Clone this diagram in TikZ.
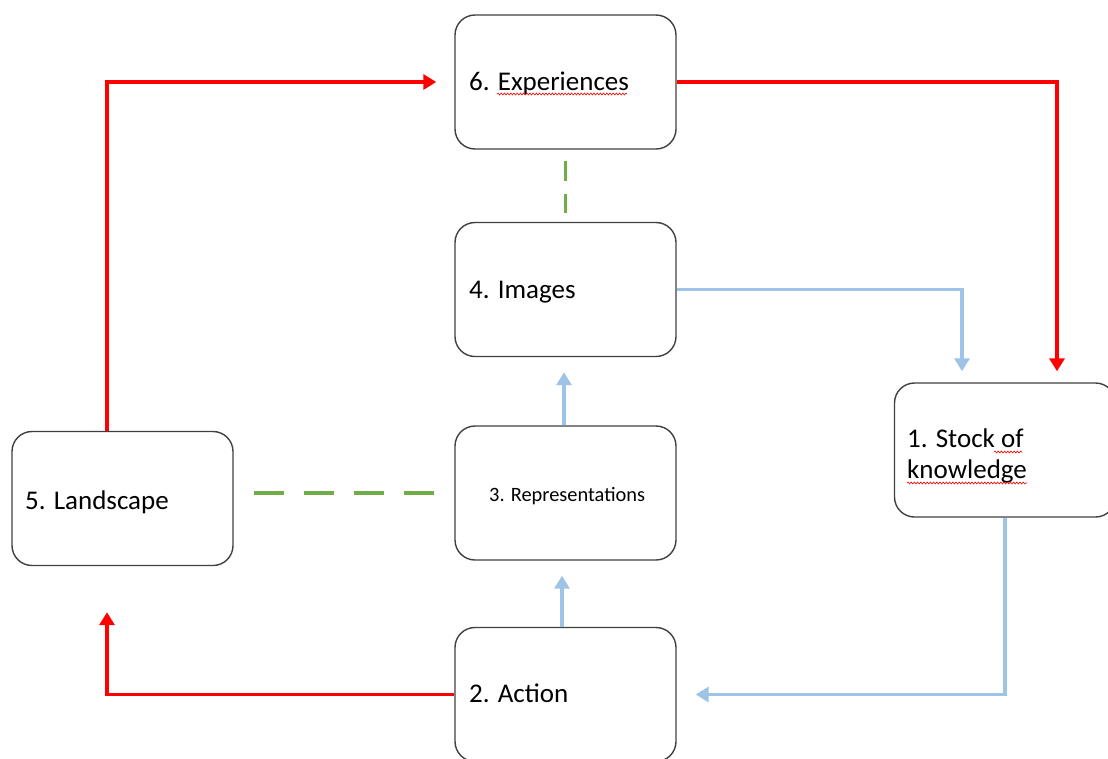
\documentclass[tikz,border=0pt]{standalone}
\usepackage{fontspec}
\setmainfont{Carlito}
\usetikzlibrary{arrows.meta,calc,decorations.pathmorphing}
\definecolor{boxline}{HTML}{404040}
\definecolor{redline}{HTML}{FF0000}
\definecolor{blueline}{HTML}{9DC3E6}
\definecolor{greenline}{HTML}{70AD47}
\tikzset{
  stagebox/.style={draw=boxline, line width=1.4pt, rounded corners=20pt, minimum width=221pt, minimum height=134pt, inner sep=0pt},
  lbl/.style={anchor=base west, inner sep=0pt, font=\fontsize{27}{33}\selectfont},
  lblsmall/.style={anchor=base west, inner sep=0pt, font=\fontsize{20.4}{25}\selectfont},
  redarrow/.style={draw=redline, line width=3.2pt, -{Triangle[width=15pt,length=13pt]}},
  bluearrow/.style={draw=blueline, line width=3.2pt, -{Triangle[width=15pt,length=13pt]}},
  greendash/.style={draw=greenline, line width=3.2pt},
  spell/.style={draw=redline, line width=0.6pt, decorate, decoration={snake, amplitude=1pt, segment length=3.2pt}}
}
\begin{document}
\begin{tikzpicture}[x=1pt,y=-1pt]
\useasboundingbox (0,0) rectangle (1108,758);
% boxes
\node[stagebox] (b6) at (565.5,82) {};
\node[stagebox] (b4) at (565.5,289.5) {};
\node[stagebox] (b3) at (565.5,493) {};
\node[stagebox] (b2) at (565.5,694.5) {};
\node[stagebox] (b5) at (122.5,498.5) {};
\node[stagebox] (b1) at (1005,450) {};
% labels
\node[lbl] (t6) at (469,90) {6. Experiences};
\node[lbl] (t4) at (469,298) {4. Images};
\node[lblsmall] (t3) at (489,501) {3. Representations};
\node[lbl] (t2) at (469,702) {2. Action};
\node[lbl] (t5) at (25,509) {5. Landscape};
\node[lbl] (t1a) at (907,447) {1. Stock of};
\node[lbl] (t1b) at (907,478) {knowledge};
% spell-check underlines
\draw[spell] (497,94) -- (627,94);
\draw[spell] (994,452) -- (1022,452);
\draw[spell] (907,483) -- (1027,483);
% named ends
\coordinate (c5top) at ($(b5.north)+(-15.5,0)$);
\coordinate (c5bot) at ($(b5.south)+(-15.5,0)$);
\coordinate (c1topR) at ($(b1.north)+(52,0)$);
\coordinate (c1topL) at ($(b1.north)+(-43,0)$);
\coordinate (c2top) at ($(b2.north)+(-3.5,0)$);
\coordinate (c3bot) at ($(b3.south)+(-3.5,0)$);
\coordinate (c3top) at ($(b3.north)+(-1.5,0)$);
\coordinate (c4bot) at ($(b4.south)+(-1.5,0)$);
\coordinate (c6west) at (b6.west);
% red connectors
\draw[redarrow, shorten >=46pt] (b2.west) -| (c5bot);
\draw[redarrow, shorten >=18pt] (c5top) |- (c6west);
\draw[redarrow, shorten >=11pt] (b6.east) -| (c1topR);
% blue connectors
\draw[bluearrow, shorten >=11pt] (b4.east) -| (c1topL);
\draw[bluearrow, shorten >=19pt] (b1.south) |- (b2.east);
\draw[bluearrow, shorten >=15pt] (c2top) -- (c3bot);
\draw[bluearrow, shorten >=15pt] (c3top) -- (c4bot);
% green dashed
\draw[greendash, dash pattern=on 20pt off 13pt, shorten <=11pt, shorten >=9pt] (b6.south) -- (b4.north);
\draw[greendash, dash pattern=on 30pt off 20pt, shorten <=20pt, shorten >=18pt] (b5.east |- b3.west) -- (b3.west);
\end{tikzpicture}
\end{document}
